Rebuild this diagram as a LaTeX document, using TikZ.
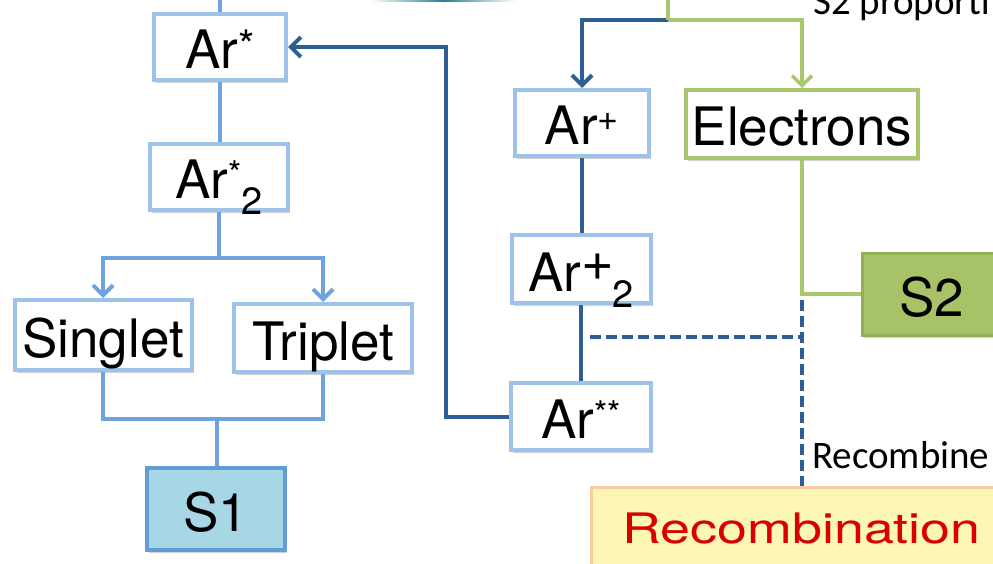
\documentclass[tikz,border=0pt]{standalone}
\usepackage{fontspec}
\usepackage{graphicx}
\setmainfont{TeX Gyre Heros}
\newfontfamily\calib{Carlito}
\usetikzlibrary{arrows.meta,shadows}
\definecolor{lbord}{HTML}{9DC3EB}
\definecolor{lline}{HTML}{6EA3DF}
\definecolor{dblue}{HTML}{2D5F94}
\definecolor{gline}{HTML}{A9C76D}
\definecolor{sonefill}{HTML}{A7D7E5}
\definecolor{soneb}{HTML}{5F9CD8}
\definecolor{stwofill}{HTML}{A8C367}
\definecolor{stwob}{HTML}{93B154}
\definecolor{recfill}{HTML}{FDF7B6}
\definecolor{recb}{HTML}{F9CBA3}
\definecolor{recred}{HTML}{D90000}
\definecolor{tealc}{HTML}{2A7F8F}
\newcommand{\bigfont}{\fontsize{53}{60}\selectfont}
\newcommand{\supast}[1]{\raisebox{13pt}{\fontsize{34}{34}\selectfont #1}}
\newcommand{\supastb}{\raisebox{8pt}{\fontsize{42}{42}\selectfont *}}
\newcommand{\supplus}[2]{\raisebox{#2}{\fontsize{#1}{#1}\selectfont +}}
\newcommand{\subtwo}{\raisebox{-16pt}{\fontsize{38}{38}\selectfont 2}}
\tikzset{
  shad/.style={drop shadow={shadow xshift=2pt, shadow yshift=-3pt, opacity=0.18, fill=black}},
  lbox/.style={draw=lbord, line width=4pt, fill=white, inner sep=0pt, font=\bigfont,
    text height=44pt, text depth=0pt, shad},
  gbox/.style={lbox, draw=gline},
  lconn/.style={draw=lline, line width=4pt},
  dconn/.style={draw=dblue, line width=4pt},
  gconn/.style={draw=gline, line width=3.5pt},
  dash line/.style={draw=dblue, line width=3.5pt, dash pattern=on 11pt off 5pt},
  tip/.style={-{Straight Barb[length=10pt,width=20pt]}},
  note/.style={anchor=base west, inner sep=0pt, font=\calib\fontsize{39}{39}\selectfont},
}
\begin{document}
\begin{tikzpicture}[x=1pt,y=-1pt]
\useasboundingbox (0,0) rectangle (993,564);
\clip (0,0) rectangle (993,564);
% partial shape at the top
\shade[left color=white, right color=white, middle color=tealc] (370,-2) rectangle (516,2);
% nodes
\node[lbox, minimum width=132pt, minimum height=66pt] (arstar) at (220,47) {Ar\supastb};
\node[lbox, minimum width=138pt, minimum height=66pt] (ar2star) at (219,177) {Ar\supast{*}\subtwo};
\node[lbox, minimum width=177pt, minimum height=70pt] (singlet) at (103,335) {Singlet};
\node[lbox, minimum width=178pt, minimum height=68pt] (triplet) at (323,338) {Triplet};
\node[lbox, draw=soneb, fill=sonefill, line width=3.5pt, minimum width=138pt, minimum height=82pt] (s1) at (216,509) {S1};
\node[lbox, minimum width=134pt, minimum height=66pt] (arp) at (582,123) {Ar\supplus{36}{14pt}};
\node[gbox, minimum width=232pt, minimum height=68pt] (elec) at (802,124) {Electrons};
\node[lbox, minimum width=139pt, minimum height=68pt] (arp2) at (581,269) {Ar\supplus{56}{11pt}\kern-2pt\subtwo};
\node[lbox, minimum width=140pt, minimum height=67pt] (arss) at (581,416.5) {Ar\supast{**}};
\node[lbox, draw=stwob, fill=stwofill, line width=3pt, minimum width=140pt, minimum height=82pt] (s2) at (932,294) {S2};
\node[lbox, draw=recb, fill=recfill, line width=3pt, minimum width=420pt, minimum height=86pt,
  text height=26pt, text=recred, font=\fontsize{42}{42}\selectfont] (recomb) at (801.5,530) {\scalebox{1.28}[1]{Recombination}};
% texts
\node[note] (s2prop) at (813,15) {S2 proporti};
\node[note] (recnote) at (812,468) {Recombine};
% coordinates
\coordinate (topl) at (220,-5);
\coordinate (split1) at (219,258);
\coordinate (join) at (217,419);
\coordinate (bend1) at (446,416.5);
\coordinate (topg) at (668,-5);
\coordinate (tsplit) at (668,20);
\coordinate (dtop) at (802,300);
\coordinate (dmid) at (802,337);
\coordinate (dleft) at (590,337);
% left connectors
\draw[lconn] (topl) -- (arstar.north);
\draw[lconn] (arstar.south) -- (arstar.south |- ar2star.north);
\draw[lconn] (ar2star.south) -- (split1);
\draw[lconn, tip] (split1) -| (singlet.north);
\draw[lconn, tip] (split1) -| (triplet.north);
\draw[lconn] (singlet.south) |- (join) -| (triplet.south);
\draw[lconn] (join) -- (join |- s1.north);
% dark blue connectors
\draw[dconn, tip] (arss.west) -- (bend1) |- (arstar.east);
\draw[dconn, tip] (tsplit) -| (arp.north);
\draw[dconn] (arp.south) -- (arp.south |- arp2.north);
\draw[dconn] (arp2.south) -- (arp2.south |- arss.north);
% green connectors
\draw[gconn] (topg) -- (tsplit);
\draw[gconn, tip] (tsplit) -| (elec.north);
\draw[gconn] (elec.south) |- (s2.west);
% dashed
\draw[dash line] (dtop) -- (dtop |- recomb.north);
\draw[dash line] (dleft) -- (dmid);
\end{tikzpicture}
\end{document}
